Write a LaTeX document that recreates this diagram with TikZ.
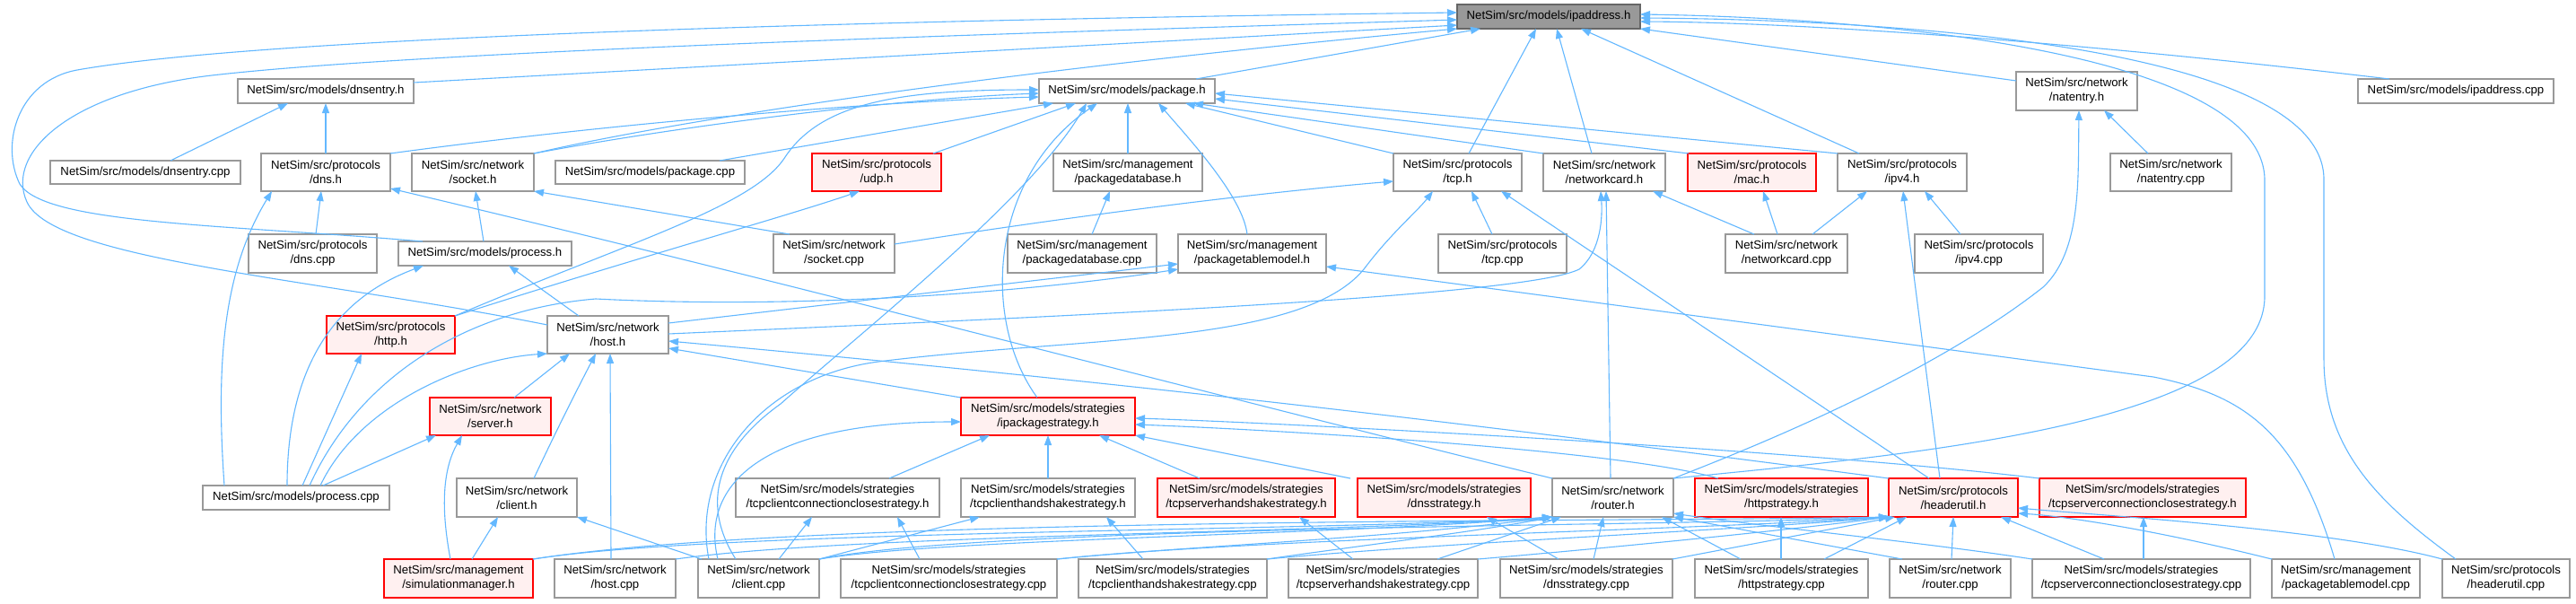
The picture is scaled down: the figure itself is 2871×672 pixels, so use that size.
\documentclass[tikz,border=0pt]{standalone}
\usepackage{fontspec}
\setmainfont{Liberation Sans}
\usetikzlibrary{arrows.meta,calc}
\definecolor{eblue}{HTML}{63B8FF}
\definecolor{bgray}{HTML}{999999}
\definecolor{pinkf}{HTML}{FFF0F0}
\definecolor{rootf}{HTML}{999999}
\definecolor{rootd}{HTML}{666666}
\definecolor{redd}{HTML}{FF0000}
\newcommand\nfont{\fontsize{13.2}{16}\selectfont}
\newcommand\nd[7]{%
  \pgfmathsetmacro\ndw{#4-#2}\pgfmathsetmacro\ndh{#5-#3}%
  \pgfmathsetmacro\ndx{(#2+#4)/2}\pgfmathsetmacro\ndy{(#3+#5)/2}%
  \node[#6,minimum width=\ndw pt,minimum height=\ndh pt] (#1) at (\ndx,\ndy) {#7};}
\begin{document}
\begin{tikzpicture}[x=1pt,y=-1pt,
  wb/.style={rectangle,draw=bgray,fill=white,line width=1.3pt,inner sep=0pt,outer sep=0pt,align=center,font=\nfont},
  rb/.style={wb,draw=redd,fill=pinkf},
  gb/.style={wb,draw=rootd,fill=rootf},
  e/.style={draw=eblue,line width=1.1pt,-{Triangle[length=11pt,width=8pt]}}]
\useasboundingbox (0,0) rectangle (2871,672);
\fill[white] (0,0) rectangle (2871,672);
% row 0
\nd{ip}{1624}{5}{1828}{32}{gb}{NetSim/src/models/ipaddress.h}
% row 1
\nd{dnsentH}{265}{88}{461}{115}{wb}{NetSim/src/models/dnsentry.h}
\nd{pkgH}{1158}{88}{1354}{115}{wb}{NetSim/src/models/package.h}
\nd{natH}{2247}{80}{2382}{123}{wb}{NetSim/src/network\\/natentry.h}
\nd{ipCpp}{2628}{88}{2846}{115}{wb}{NetSim/src/models/ipaddress.cpp}
% row 2
\nd{dnsentCpp}{56}{179}{268}{205}{wb}{NetSim/src/models/dnsentry.cpp}
\nd{dnsH}{291}{171}{435}{213}{wb}{NetSim/src/protocols\\/dns.h}
\nd{sockH}{459}{171}{595}{213}{wb}{NetSim/src/network\\/socket.h}
\nd{pkgCpp}{619}{179}{830}{205}{wb}{NetSim/src/models/package.cpp}
\nd{udpH}{905}{171}{1049}{213}{rb}{NetSim/src/protocols\\/udp.h}
\nd{pkgdbH}{1174}{171}{1340}{213}{wb}{NetSim/src/management\\/packagedatabase.h}
\nd{tcpH}{1553}{171}{1696}{213}{wb}{NetSim/src/protocols\\/tcp.h}
\nd{ncH}{1720}{171}{1856}{213}{wb}{NetSim/src/network\\/networkcard.h}
\nd{macH}{1881}{171}{2024}{213}{rb}{NetSim/src/protocols\\/mac.h}
\nd{ipv4H}{2048}{171}{2192}{213}{wb}{NetSim/src/protocols\\/ipv4.h}
\nd{natCpp}{2352}{171}{2487}{213}{wb}{NetSim/src/network\\/natentry.cpp}
% row 3
\nd{dnsCpp}{277}{261}{420}{304}{wb}{NetSim/src/protocols\\/dns.cpp}
\nd{procH}{444}{269}{637}{296}{wb}{NetSim/src/models/process.h}
\nd{sockCpp}{862}{261}{997}{304}{wb}{NetSim/src/network\\/socket.cpp}
\nd{pkgdbCpp}{1123}{261}{1289}{304}{wb}{NetSim/src/management\\/packagedatabase.cpp}
\nd{ptmH}{1313}{261}{1478}{304}{wb}{NetSim/src/management\\/packagetablemodel.h}
\nd{tcpCpp}{1603}{261}{1746}{304}{wb}{NetSim/src/protocols\\/tcp.cpp}
\nd{ncCpp}{1923}{261}{2059}{304}{wb}{NetSim/src/network\\/networkcard.cpp}
\nd{ipv4Cpp}{2134}{261}{2277}{304}{wb}{NetSim/src/protocols\\/ipv4.cpp}
% row 4
\nd{httpH}{364}{352}{507}{394}{rb}{NetSim/src/protocols\\/http.h}
\nd{hostH}{610}{352}{745}{394}{wb}{NetSim/src/network\\/host.h}
% row 5
\nd{servH}{479}{443}{614}{485}{rb}{NetSim/src/network\\/server.h}
\nd{ipsH}{1071}{443}{1265}{485}{rb}{NetSim/src/models/strategies\\/ipackagestrategy.h}
% row 6
\nd{procCpp}{226}{541}{434}{568}{wb}{NetSim/src/models/process.cpp}
\nd{clientH}{509}{533}{643}{576}{wb}{NetSim/src/network\\/client.h}
\nd{tccsH}{820}{533}{1047}{576}{wb}{NetSim/src/models/strategies\\/tcpclientconnectionclosestrategy.h}
\nd{tchsH}{1071}{533}{1265}{576}{wb}{NetSim/src/models/strategies\\/tcpclienthandshakestrategy.h}
\nd{tshsH}{1290}{533}{1488}{576}{rb}{NetSim/src/models/strategies\\/tcpserverhandshakestrategy.h}
\nd{dnssH}{1513}{533}{1706}{576}{rb}{NetSim/src/models/strategies\\/dnsstrategy.h}
\nd{routerH}{1730}{533}{1865}{576}{wb}{NetSim/src/network\\/router.h}
\nd{httpsH}{1889}{533}{2082}{576}{rb}{NetSim/src/models/strategies\\/httpstrategy.h}
\nd{huH}{2105}{533}{2249}{576}{rb}{NetSim/src/protocols\\/headerutil.h}
\nd{tscsH}{2273}{533}{2503}{576}{rb}{NetSim/src/models/strategies\\/tcpserverconnectionclosestrategy.h}
% row 7
\nd{simH}{428}{623}{594}{666}{rb}{NetSim/src/management\\/simulationmanager.h}
\nd{hostCpp}{618}{623}{753}{666}{wb}{NetSim/src/network\\/host.cpp}
\nd{clientCpp}{778}{623}{913}{666}{wb}{NetSim/src/network\\/client.cpp}
\nd{tccsCpp}{937}{623}{1178}{666}{wb}{NetSim/src/models/strategies\\/tcpclientconnectionclosestrategy.cpp}
\nd{tchsCpp}{1202}{623}{1412}{666}{wb}{NetSim/src/models/strategies\\/tcpclienthandshakestrategy.cpp}
\nd{tshsCpp}{1436}{623}{1647}{666}{wb}{NetSim/src/models/strategies\\/tcpserverhandshakestrategy.cpp}
\nd{dnssCpp}{1672}{623}{1864}{666}{wb}{NetSim/src/models/strategies\\/dnsstrategy.cpp}
\nd{httpsCpp}{1889}{623}{2082}{666}{wb}{NetSim/src/models/strategies\\/httpstrategy.cpp}
\nd{routerCpp}{2106}{623}{2241}{666}{wb}{NetSim/src/network\\/router.cpp}
\nd{tscsCpp}{2265}{623}{2508}{666}{wb}{NetSim/src/models/strategies\\/tcpserverconnectionclosestrategy.cpp}
\nd{ptmCpp}{2532}{623}{2697}{666}{wb}{NetSim/src/management\\/packagetablemodel.cpp}
\nd{huCpp}{2722}{623}{2864}{666}{wb}{NetSim/src/protocols\\/headerutil.cpp}

% ---- edges to ipaddress.h
\draw[e] (dnsentH.east |- 0,92) -- (ip.west |- 0,28);
\draw[e] (sockH.north east) .. controls (750,135) and (1100,80) .. (ip.south west);
\draw[e] (1333,0 |- pkgH.north) -- (1650,0 |- ip.south);
\draw[e] (1637,0 |- tcpH.north) -- (1712,0 |- ip.south);
\draw[e] (1774,0 |- ncH.north) -- (1735,0 |- ip.south);
\draw[e] (2072,0 |- ipv4H.north) -- (1762,0 |- ip.south);
\draw[e] (natH.west |- 0,90) -- (ip.south east);
\draw[e] (2663,0 |- ipCpp.north) .. controls (2300,45) and (2000,25) .. (ip.east |- 0,24);
\draw[e] (routerH.north east) .. controls (2150,505) and (2524,470) .. (2524,330) -- (2524,200) .. controls (2522,60) and (2100,20) .. (ip.east |- 0,16);
\draw[e] (2737,0 |- huCpp.north) .. controls (2650,560) and (2590,500) .. (2590,400) -- (2590,200) .. controls (2590,50) and (2100,22) .. (ip.east |- 0,20);
\draw[e] (471,0 |- procH.north) .. controls (250,250) and (50,250) .. (22,205) .. controls (0,160) and (20,90) .. (86,78) .. controls (300,40) and (1000,22) .. (ip.west |- 0,14);
\draw[e] (hostH.west |- 0,362) .. controls (350,310) and (60,290) .. (30,225) .. controls (5,170) and (80,100) .. (245,83) .. controls (500,55) and (1200,35) .. (ip.west |- 0,22);
% ---- edges to package.h
\draw[e] (dnsH.north east) .. controls (700,135) and (1000,112) .. (pkgH.west |- 0,108);
\draw[e] (sockH.north east) .. controls (760,140) and (1000,110) .. (pkgH.west |- 0,104);
\draw[e] (802,0 |- pkgCpp.north) -- (1174,0 |- pkgH.south);
\draw[e] (1040,0 |- udpH.north) -- (1199,0 |- pkgH.south);
\draw[e] (1257,0 |- pkgdbH.north) -- (1257,0 |- pkgH.south);
\draw[e] (1390,0 |- ptmH.north) .. controls (1385,220) and (1330,160) .. (1291,0 |- pkgH.south);
\draw[e] (tcpH.north west) -- (1321,0 |- pkgH.south);
\draw[e] (ncH.north west) -- (1330,0 |- pkgH.south);
\draw[e] (1882,0 |- macH.north) -- (pkgH.east |- 0,110);
\draw[e] (ipv4H.north west) -- (pkgH.east |- 0,104);
\draw[e] (httpH.north east) .. controls (700,270) and (840,230) .. (875,175) .. controls (915,115) and (1000,100) .. (pkgH.west |- 0,100);
\draw[e] (1156,0 |- ipsH.north) .. controls (1095,360) and (1100,200) .. (1223,0 |- pkgH.south);
\draw[e] (820,0 |- clientCpp.north) .. controls (780,560) and (800,500) .. (870,450) .. controls (960,370) and (1150,220) .. (1211,0 |- pkgH.south);
% ---- other upper edges
\draw[e] (190,0 |- dnsentCpp.north) -- (321,0 |- dnsentH.south);
\draw[e] (363,0 |- dnsH.north) -- (363,0 |- dnsentH.south);
\draw[e] (2394,0 |- natCpp.north) -- (2345,0 |- natH.south);
\draw[e] (routerH.north east) .. controls (1950,500) and (2150,420) .. (2277,320) .. controls (2320,280) and (2316,200) .. (2317,0 |- natH.south);
\draw[e] (352,0 |- dnsCpp.north) -- (358,0 |- dnsH.south);
\draw[e] (250,0 |- procCpp.north) .. controls (240,400) and (250,300) .. (303,0 |- dnsH.south);
\draw[e] (routerH.north west) .. controls (1350,440) and (900,320) .. (dnsH.east |- 0,210);
\draw[e] (539,0 |- procH.north) -- (530,0 |- sockH.south);
\draw[e] (880,0 |- sockCpp.north) -- (sockH.south east);
\draw[e] (320,0 |- procCpp.north) .. controls (320,400) and (380,330) .. (472,0 |- procH.south);
\draw[e] (645,0 |- hostH.north) -- (567,0 |- procH.south);
\draw[e] (sockCpp.east |- 0,272) .. controls (1200,240) and (1400,215) .. (tcpH.west |- 0,202);
\draw[e] (1663,0 |- tcpCpp.north) -- (1640,0 |- tcpH.south);
\draw[e] (2150,0 |- huH.north) -- (1673,0 |- tcpH.south);
\draw[e] (790,0 |- clientCpp.north) .. controls (770,520) and (850,420) .. (979,403) .. controls (1200,375) and (1450,385) .. (1520,300) .. controls (1550,260) and (1580,235) .. (1597,0 |- tcpH.south);
\draw[e] (345,0 |- procCpp.north) .. controls (400,420) and (520,345) .. (664,333) .. controls (900,345) and (1150,325) .. (ptmH.west |- 0,300);
\draw[e] (1955,0 |- ncCpp.north) -- (1842,0 |- ncH.south);
\draw[e] (1795,0 |- routerH.north) -- (1790,0 |- ncH.south);
\draw[e] (hostH.east |- 0,372) .. controls (1200,352) and (1700,330) .. (1760,300) .. controls (1785,280) and (1786,240) .. (1784,0 |- ncH.south);
\draw[e] (1981,0 |- ncCpp.north) -- (1965,0 |- macH.south);
\draw[e] (2020,0 |- ncCpp.north) -- (2081,0 |- ipv4H.south);
\draw[e] (2185,0 |- ipv4Cpp.north) -- (2145,0 |- ipv4H.south);
\draw[e] (2162,0 |- huH.north) -- (2121,0 |- ipv4H.south);
\draw[e] (1217,0 |- pkgdbCpp.north) -- (1237,0 |- pkgdbH.south);
\draw[e] (hostH.east |- 0,360) -- (ptmH.west |- 0,294);
\draw[e] (2602,0 |- ptmCpp.north) .. controls (2560,480) and (2500,440) .. (2400,420) -- (ptmH.east |- 0,297);
\draw[e] (httpH.north east) .. controls (700,290) and (880,240) .. (958,0 |- udpH.south);
% ---- middle
\draw[e] (337,0 |- procCpp.north) -- (403,0 |- httpH.south);
\draw[e] (357,0 |- procCpp.north) .. controls (400,450) and (520,400) .. (hostH.south west);
\draw[e] (573,0 |- servH.north) -- (635,0 |- hostH.south);
\draw[e] (595,0 |- clientH.north) .. controls (620,480) and (640,440) .. (664,0 |- hostH.south);
\draw[e] (681,0 |- hostCpp.north) -- (680,0 |- hostH.south);
\draw[e] (ipsH.north west) -- (hostH.east |- 0,388);
\draw[e] (huH.north west) .. controls (1700,480) and (1300,430) .. (hostH.east |- 0,380);
\draw[e] (360,0 |- procCpp.north) -- (486,0 |- servH.south);
\draw[e] (502,0 |- simH.north) .. controls (490,560) and (495,520) .. (515,0 |- servH.south);
\draw[e] (526,0 |- simH.north) -- (555,0 |- clientH.south);
\draw[e] (782,0 |- clientCpp.north) -- (clientH.south east);
\draw[e] (991,0 |- tccsH.north) -- (1103,0 |- ipsH.south);
\draw[e] (1168,0 |- tchsH.north) -- (1168,0 |- ipsH.south);
\draw[e] (1337,0 |- tshsH.north) -- (1225,0 |- ipsH.south);
\draw[e] (1505,0 |- dnssH.north) -- (ipsH.south east);
\draw[e] (1915,0 |- httpsH.north) .. controls (1800,500) and (1400,478) .. (ipsH.east |- 0,473);
\draw[e] (tscsH.north west) .. controls (2000,500) and (1400,470) .. (ipsH.east |- 0,466);
\draw[e] (800,0 |- clientCpp.north) .. controls (780,540) and (850,470) .. (ipsH.west |- 0,470);
% ---- bottom to row 6 strategies
\draw[e] (868,0 |- clientCpp.north) -- (905,0 |- tccsH.south);
\draw[e] (clientCpp.north east) -- (1092,0 |- tchsH.south);
\draw[e] (1025,0 |- tccsCpp.north) -- (1000,0 |- tccsH.south);
\draw[e] (1274,0 |- tchsCpp.north) -- (1233,0 |- tchsH.south);
\draw[e] (1508,0 |- tshsCpp.north) -- (1448,0 |- tshsH.south);
\draw[e] (1737,0 |- dnssCpp.north) -- (1657,0 |- dnssH.south);
\draw[e] (1985,0 |- httpsCpp.north) -- (1985,0 |- httpsH.south);
\draw[e] (2389,0 |- tscsCpp.north) -- (2389,0 |- tscsH.south);
% ---- to router.h
\draw[e] (simH.north east) .. controls (800,590) and (1500,592) .. (routerH.south west);
\draw[e] (hostCpp.north east) .. controls (950,595) and (1500,594) .. (routerH.south west);
\draw[e] (clientCpp.north east) .. controls (1050,600) and (1500,596) .. (routerH.south west);
\draw[e] (tccsCpp.north east) .. controls (1300,610) and (1550,600) .. (routerH.south west);
\draw[e] (tchsCpp.north east) .. controls (1500,610) and (1650,592) .. (routerH.south west);
\draw[e] (1602,0 |- tshsCpp.north) -- (1740,0 |- routerH.south);
\draw[e] (1776,0 |- dnssCpp.north) -- (1787,0 |- routerH.south);
\draw[e] (1940,0 |- httpsCpp.north) -- (1852,0 |- routerH.south);
\draw[e] (2120,0 |- routerCpp.north) -- (routerH.south east);
\draw[e] (tscsCpp.north west) .. controls (2150,605) and (1950,585) .. (routerH.east |- 0,572);
% ---- to headerutil.h
\draw[e] (simH.north east) .. controls (900,575) and (1800,582) .. (huH.south west);
\draw[e] (clientCpp.north east) .. controls (1100,585) and (1900,586) .. (huH.south west);
\draw[e] (tccsCpp.north east) .. controls (1400,600) and (1900,590) .. (huH.south west);
\draw[e] (tchsCpp.north east) .. controls (1600,605) and (1950,590) .. (huH.south west);
\draw[e] (tshsCpp.north east) .. controls (1800,610) and (2000,590) .. (huH.south west);
\draw[e] (dnssCpp.north east) -- (2112,0 |- huH.south);
\draw[e] (2033,0 |- httpsCpp.north) -- (2125,0 |- huH.south);
\draw[e] (2175,0 |- routerCpp.north) -- (2177,0 |- huH.south);
\draw[e] (2345,0 |- tscsCpp.north) -- (2230,0 |- huH.south);
\draw[e] (ptmCpp.north west) .. controls (2400,590) and (2300,575) .. (huH.east |- 0,572);
\draw[e] (huCpp.north west) .. controls (2600,590) and (2350,575) .. (huH.east |- 0,566);
\end{tikzpicture}
\end{document}
